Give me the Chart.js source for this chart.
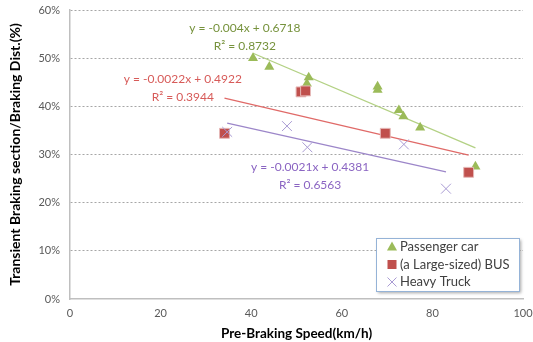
<!DOCTYPE html>
<html>
<head>
<meta charset="utf-8">
<script src="https://cdn.jsdelivr.net/npm/chart.js@4"></script>
<style>
  html, body { margin: 0; padding: 0; background: #fff; }
  #wrap { width: 533px; height: 342px; }
</style>
</head>
<body>
<div id="wrap"><canvas id="brakeChart" width="533" height="342"></canvas></div>
<script>
// Data (speed km/h, ratio as fraction)
const carSpeed = [40.4, 44.0, 52.7, 52.3, 67.9, 67.9, 72.6, 73.6, 77.3, 89.5];
const carRatio = [0.500, 0.482, 0.460, 0.447, 0.441, 0.434, 0.392, 0.379, 0.356, 0.275];

const busSpeed = [34.1, 51.0, 52.0, 69.6, 88.0];
const busRatio = [0.344, 0.430, 0.432, 0.344, 0.263];

const truckSpeed = [34.7, 47.9, 52.4, 73.7, 83.0];
const truckRatio = [0.347, 0.359, 0.315, 0.321, 0.229];

// Trendlines as printed on the chart
const trendSlope = [-0.004, -0.0022, -0.0021];
const trendIntercept = [0.6718, 0.4922, 0.4381];
const trendR2 = ['0.8732', '0.3944', '0.6563'];

const seriesNames = ['Passenger car', '(a Large-sized) BUS', 'Heavy Truck'];
const xTicks = [0, 20, 40, 60, 80, 100];
const yTicks = [0, 0.1, 0.2, 0.3, 0.4, 0.5, 0.6];

const FONT = 'Lato, "Open Sans", sans-serif';
const markColors = ['#9bbb59', '#c0504d', '#a99bd3'];
const lineColors = ['#b3d184', '#e06a68', '#9c86c9'];
const textColors = ['#76923c', '#d75b59', '#8a64c2'];

function points(xs, ys) {
    return xs.map((x, i) => ({ x: x, y: ys[i] }));
}

function trendPoints(k, xs) {
    const lo = Math.min(...xs), hi = Math.max(...xs);
    return [lo, hi].map(x => ({ x: x, y: trendSlope[k] * x + trendIntercept[k] }));
}

const allSpeeds = [carSpeed, busSpeed, truckSpeed];

// equation labels, anchored in data units
const eqLabels = [
    { x: 38.6, y: 0.563 },
    { x: 24.9, y: 0.457 },
    { x: 53.0, y: 0.274 }
];

const trendTextPlugin = {
    id: 'trendText',
    afterDatasetsDraw(chart) {
        const { ctx, scales } = chart;
        ctx.save();
        ctx.font = '12px ' + FONT;
        ctx.textAlign = 'center';
        ctx.textBaseline = 'middle';
        eqLabels.forEach((p, k) => {
            const px = scales.x.getPixelForValue(p.x);
            const py = scales.y.getPixelForValue(p.y);
            const s = trendSlope[k];
            ctx.fillStyle = textColors[k];
            ctx.fillText('y = ' + s + 'x + ' + trendIntercept[k], px, py);
            ctx.fillText('R\u00B2 = ' + trendR2[k], px, py + 18);
        });
        ctx.restore();
    }
};

function drawMarker(ctx, k, x, y) {
    ctx.save();
    ctx.fillStyle = markColors[k];
    ctx.strokeStyle = markColors[k];
    if (k === 0) {
        ctx.beginPath();
        ctx.moveTo(x, y - 5.5);
        ctx.lineTo(x + 5, y + 3.5);
        ctx.lineTo(x - 5, y + 3.5);
        ctx.closePath();
        ctx.fill();
    } else if (k === 1) {
        ctx.fillRect(x - 4.5, y - 4.5, 9, 9);
    } else {
        ctx.lineWidth = 1;
        ctx.beginPath();
        ctx.moveTo(x - 4.5, y - 4.5); ctx.lineTo(x + 4.5, y + 4.5);
        ctx.moveTo(x + 4.5, y - 4.5); ctx.lineTo(x - 4.5, y + 4.5);
        ctx.stroke();
    }
    ctx.restore();
}

const boxLegendPlugin = {
    id: 'boxLegend',
    afterDraw(chart) {
        const { ctx } = chart;
        const bx = 376, by = 238, bw = 143, bh = 53;
        ctx.save();
        ctx.shadowColor = 'rgba(0,0,0,0.35)';
        ctx.shadowBlur = 3;
        ctx.shadowOffsetX = 2;
        ctx.shadowOffsetY = 2;
        ctx.fillStyle = '#fff';
        ctx.fillRect(bx, by, bw, bh);
        ctx.restore();
        ctx.save();
        ctx.strokeStyle = '#95b3d7';
        ctx.lineWidth = 1;
        ctx.strokeRect(bx + 0.5, by + 0.5, bw, bh);
        ctx.font = '13px ' + FONT;
        ctx.textBaseline = 'middle';
        seriesNames.forEach((name, k) => {
            const y = by + 9 + k * 17.5;
            drawMarker(ctx, k, bx + 16, y);
            ctx.fillStyle = '#404040';
            ctx.fillText(name, bx + 24, y);
        });
        ctx.restore();
    }
};

document.addEventListener('DOMContentLoaded', () => {
    const ctx = document.getElementById('brakeChart').getContext('2d');

    new Chart(ctx, {
        type: 'scatter',
        data: {
            datasets: [
                {
                    label: seriesNames[0],
                    data: points(carSpeed, carRatio),
                    pointStyle: 'triangle',
                    pointRadius: 5.8,
                    backgroundColor: markColors[0],
                    borderColor: markColors[0],
                    borderWidth: 0,
                    order: 3
                },
                {
                    label: seriesNames[1],
                    data: points(busSpeed, busRatio),
                    pointStyle: 'rect',
                    pointRadius: 7,
                    backgroundColor: markColors[1],
                    borderColor: '#e6b9b8',
                    borderWidth: 1,
                    order: 2
                },
                {
                    label: seriesNames[2],
                    data: points(truckSpeed, truckRatio),
                    pointStyle: 'crossRot',
                    pointRadius: 7,
                    borderColor: markColors[2],
                    borderWidth: 1,
                    order: 1
                },
                ...[0, 1, 2].map(k => ({
                    type: 'line',
                    label: 'trend' + k,
                    data: trendPoints(k, allSpeeds[k]),
                    borderColor: lineColors[k],
                    borderWidth: 1.3,
                    pointRadius: 0,
                    fill: false,
                    order: 4 + k
                }))
            ]
        },
        options: {
            responsive: false,
            animation: false,
            layout: { padding: { top: 10, right: 10, left: 0, bottom: 0 } },
            plugins: {
                legend: { display: false },
                tooltip: { enabled: false }
            },
            scales: {
                x: {
                    type: 'linear',
                    min: 0,
                    max: 100,
                    afterBuildTicks(axis) { axis.ticks = xTicks.map(v => ({ value: v })); },
                    afterFit(axis) {
                        axis.height = 43;
                        axis.paddingLeft = 0;
                        axis.paddingRight = 0;
                    },
                    grid: { display: false, drawTicks: false },
                    border: { display: true, color: '#bfbfbf', width: 1.5 },
                    ticks: {
                        color: '#595959',
                        font: { family: FONT, size: 11 },
                        padding: 8,
                        maxRotation: 0
                    },
                    title: {
                        display: true,
                        text: 'Pre-Braking Speed(km/h)',
                        color: '#000',
                        font: { family: FONT, size: 13.5, weight: 'bold' },
                        padding: { top: 0, bottom: 0 }
                    }
                },
                y: {
                    type: 'linear',
                    min: 0,
                    max: 0.6,
                    afterBuildTicks(axis) { axis.ticks = yTicks.map(v => ({ value: v })); },
                    afterFit(axis) {
                        axis.width = 70;
                        axis.paddingTop = 0;
                        axis.paddingBottom = 0;
                    },
                    grid: {
                        color: ctx => ctx.tick && ctx.tick.value === 0 ? 'rgba(0,0,0,0)' : '#a6a6a6',
                        lineWidth: 1,
                        drawTicks: false
                    },
                    border: { display: true, color: '#bfbfbf', width: 1.5, dash: [2, 2] },
                    ticks: {
                        color: '#595959',
                        font: { family: FONT, size: 11 },
                        padding: 10,
                        callback: v => Math.round(v * 100) + '%'
                    },
                    title: {
                        display: true,
                        text: 'Transient Braking section/Braking Dist.(%)',
                        color: '#000',
                        font: { family: FONT, size: 14, weight: 'bold' },
                        padding: { top: 7, bottom: 0 }
                    }
                }
            }
        },
        plugins: [trendTextPlugin, boxLegendPlugin]
    });
});
</script>
</body>
</html>
